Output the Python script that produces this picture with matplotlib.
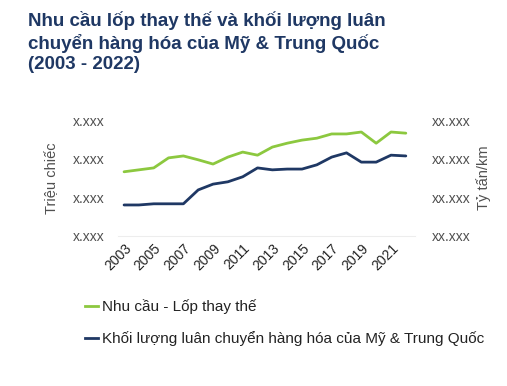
import matplotlib
matplotlib.use("Agg")
import matplotlib.pyplot as plt
from matplotlib.lines import Line2D

plt.rcParams['font.family'] = ['Liberation Sans', 'DejaVu Sans']

years = list(range(2003, 2023))
demand = [1.66, 1.71, 1.76, 2.02, 2.07, 1.97, 1.86, 2.04, 2.17, 2.09,
          2.30, 2.40, 2.48, 2.53, 2.64, 2.64, 2.69, 2.40, 2.69, 2.66]
freight = [0.80, 0.80, 0.83, 0.83, 0.83, 1.19, 1.34, 1.40, 1.53, 1.76,
           1.71, 1.73, 1.73, 1.84, 2.04, 2.15, 1.91, 1.91, 2.09, 2.07]
tick_years = list(range(2003, 2022, 2))
left_labels = ["x.xxx", "x.xxx", "x.xxx", "x.xxx"]
right_labels = ["xx.xxx", "xx.xxx", "xx.xxx", "xx.xxx"]
title = "Nhu cầu lốp thay thế và khối lượng luân\nchuyển hàng hóa của Mỹ & Trung Quốc\n(2003 - 2022)"
name_demand = "Nhu cầu - Lốp thay thế"
name_freight = "Khối lượng luân chuyển hàng hóa của Mỹ & Trung Quốc"

green = "#8CC83F"
navy = "#1F3864"
grey = "#505050"

fig = plt.figure(figsize=(5.07, 3.86), dpi=100)
ax = fig.add_axes([0.233, 0.389, 0.585, 0.30])
ax.plot(years, demand, color=green, lw=2.0, solid_capstyle='round')
ax.plot(years, freight, color=navy, lw=2.0, solid_capstyle='round')
ax.set_xlim(2002.6, 2022.6)
ax.set_ylim(0, 3)
ax.set_yticks([0, 1, 2, 3])
ax.set_yticklabels(left_labels, color=grey, fontsize=10)
ax.set_xticks(tick_years)
ax.set_xticklabels([str(y) for y in tick_years], rotation=45, ha='right',
                   rotation_mode='anchor', fontsize=10, color='#222222')
for s in ['top', 'right', 'left']:
    ax.spines[s].set_visible(False)
ax.spines['bottom'].set_color('#EDEDED')
ax.tick_params(axis='y', length=0, pad=10)
ax.tick_params(axis='x', length=0, pad=4)
ax.set_ylabel("Triệu chiếc", fontsize=10.5, color=grey, labelpad=10)

ax2 = ax.twinx()
ax2.set_ylim(0, 3)
ax2.set_yticks([0, 1, 2, 3])
ax2.set_yticklabels(right_labels, color=grey, fontsize=10)
for s in ['top', 'right', 'left', 'bottom']:
    ax2.spines[s].set_visible(False)
ax2.tick_params(axis='y', length=0, pad=12)
ax2.set_ylabel("Tỷ tấn/km", fontsize=10.5, color=grey, rotation=90, labelpad=4)

fig.text(0.055, 0.972, title, fontsize=13.5, fontweight='bold', color=navy,
         va='top', ha='left', linespacing=1.25)

handles = [Line2D([], [], color=green, lw=2), Line2D([], [], color=navy, lw=2)]
fig.legend(handles, [name_demand, name_freight], loc='upper left',
           bbox_to_anchor=(0.14, 0.26), frameon=False, fontsize=11,
           handlelength=0.9, handletextpad=0.25, labelspacing=1.1,
           labelcolor='#222222')

fig.savefig("out.png", dpi=100, facecolor='white')
